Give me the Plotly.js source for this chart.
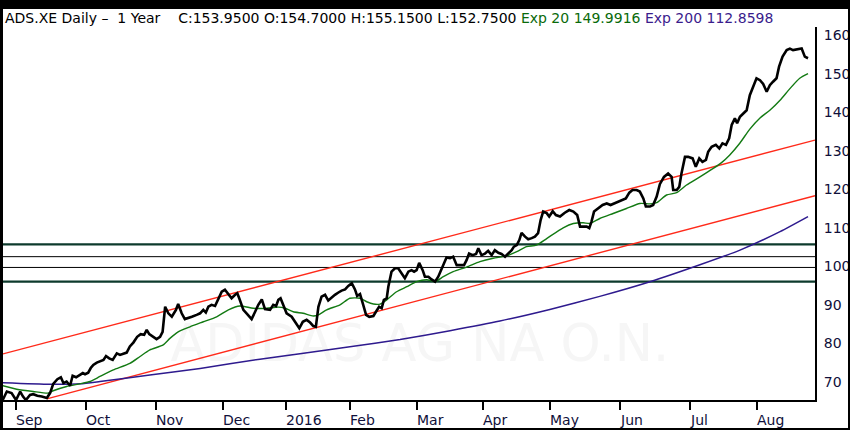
<!DOCTYPE html>
<html>
<head>
<meta charset="utf-8">
<script src="https://cdn.plot.ly/plotly-3.0.1.min.js"></script>
<style>
  html, body { margin: 0; padding: 0; background: #fff; }
  #wrap { position: relative; width: 850px; height: 430px; overflow: hidden; }
  #chart { position: absolute; left: 0; top: 0; width: 850px; height: 430px; }
  .fr { position: absolute; background: #000; pointer-events: none; }
</style>
</head>
<body>
<div id="wrap">
  <div id="chart"></div>
  <div class="fr" style="left:0;top:0;width:850px;height:9px;"></div>
  <div class="fr" style="left:0;top:0;width:3px;height:430px;"></div>
  <div class="fr" style="left:848px;top:0;width:2px;height:430px;"></div>
  <div class="fr" style="left:0;top:428px;width:850px;height:2px;"></div>
</div>
<script>
// ---- data (x = trading-day index, 0 = 1 Sep 2015) ----
const closeDay = [-4.2,-2.9,-1.4,0,1.3,2.2,3.1,4.4,5.4,6.7,8.1,9.7,10.7,11.7,13.0,14.1,14.9,15.9,17.0,17.8,18.9,19.9,21.0,21.7,22.7,23.5,24.3,25.4,26.4,27.5,28.3,29.3,30.4,31.7,32.7,33.7,34.8,35.8,36.9,38.1,39.2,40.3,41.1,41.9,43.0,44.2,45.3,46.1,46.9,47.9,49.0,50.3,51.0,52.1,53.1,54.2,55.3,56.8,57.9,58.9,59.7,60.5,61.5,62.6,63.6,64.7,65.7,66.8,67.8,68.9,69.6,70.2,71.5,72.5,74.1,75.2,76.2,77.3,78.3,79.9,80.9,81.8,82.5,83.2,84.1,85.1,86.7,87.7,89.1,90.2,91.4,92.5,93.5,94.3,95.1,96.1,97.2,98.2,99.3,100.3,101.4,102.4,103.5,104.5,105.6,106.6,107.3,108.2,109.2,110.1,111.1,112.4,113.2,114.2,115.0,115.7,116.6,117.1,118.1,119.2,120.2,121.3,122.3,123.4,124.4,125.2,126.0,126.8,127.9,128.6,129.7,130.7,131.8,132.8,133.9,134.6,135.4,136.5,137.5,138.6,139.6,140.9,141.7,142.5,143.6,144.7,145.4,146.4,147.5,148.5,149.6,150.6,151.7,152.7,153.8,154.8,155.9,156.6,157.5,158.3,159.0,160.1,161.1,162.2,163.2,164.2,165.0,165.8,166.9,167.7,168.8,169.8,171.1,172.6,174.0,175.3,176.5,177.4,178.4,179.5,180.3,181.0,181.8,183.1,184.5,185.8,187.0,188.1,189.4,190.8,191.8,192.9,193.9,195.2,196.2,197.3,198.1,199.4,200.4,201.5,202.5,203.8,205.1,206.2,206.7,207.8,208.6,209.3,210.4,211.4,212.8,213.8,214.9,215.9,217.0,217.7,218.8,220.1,221.2,222.2,223.3,224.3,225.1,226.1,226.8,227.7,228.9,229.8,230.8,231.9,232.9,234.0,235.0,236.1,237.1,238.1,239.2,240.0,241.1,242.4,243.4,244.4,245.7,247.1,248.1,249.1];
const closeVal = [65.3,67.5,67.1,65.3,67.5,66.2,65.3,66.6,66.8,66.4,66.2,65.8,67.1,69.5,70.7,71.2,69.7,70.1,69.0,71.6,71.2,71.8,72.3,72.0,72.4,73.6,74.4,75.0,75.3,75.7,76.7,76.1,75.7,77.4,77.0,77.3,77.6,79.2,80.2,81.7,82.4,82.2,83.5,82.4,81.7,81.1,81.7,83.0,89.5,87.8,86.9,88.7,90.2,87.8,86.3,86.5,86.9,87.4,87.8,88.7,88.0,89.5,90.0,89.7,91.3,93.4,93.9,92.6,91.7,92.6,93.0,91.7,88.7,87.8,86.3,88.2,90.0,91.4,88.9,88.7,90.0,89.7,91.3,91.7,90.0,87.8,86.9,85.6,83.9,85.6,86.1,85.4,84.5,84.3,89.5,92.1,92.6,91.1,92.0,92.6,93.2,93.7,94.0,94.9,95.6,94.0,92.3,92.8,90.0,87.4,86.9,87.1,88.2,89.5,89.1,91.3,91.7,94.7,98.6,99.5,99.5,98.3,96.9,98.6,99.0,98.6,99.0,100.9,99.0,97.3,97.3,96.6,96.0,97.3,99.5,101.2,102.3,102.1,102.5,100.3,100.3,100.3,101.6,103.3,102.9,103.2,104.7,102.9,103.3,104.0,102.9,104.2,103.5,103.2,102.5,103.2,104.2,105.1,105.5,106.8,108.7,107.7,107.0,107.3,107.7,108.6,112.0,114.2,113.8,112.9,114.3,113.3,112.9,113.9,114.6,114.2,113.3,110.3,110.3,110.3,109.9,111.6,114.2,115.0,115.9,116.3,115.9,116.3,116.8,117.2,117.6,119.1,119.8,119.8,119.4,117.6,115.5,115.5,115.9,118.1,121.3,123.2,124.1,123.2,119.8,119.8,120.6,124.1,128.4,128.4,128.0,125.8,128.0,127.1,127.6,129.7,131.0,131.5,130.6,131.9,131.5,133.2,136.7,138.4,137.1,138.8,139.7,140.5,144.4,147.0,148.8,148.3,147.3,145.3,147.0,147.9,148.8,151.8,154.4,156.1,156.5,156.1,156.3,156.5,154.4,154.0];

const ema20Day = [-4.2,0.2,5.4,10.2,11.7,15.9,20.1,23.3,26.4,30.6,35.8,39.0,42.1,46.3,48.4,51.0,54.7,58.9,63.1,66.8,70.4,74.6,78.8,82.5,84.6,87.2,90.3,93.5,95.1,97.7,101.9,105.0,108.2,110.3,112.4,114.5,116.6,119.7,122.9,126.0,129.2,131.8,134.4,137.5,141.7,145.9,150.1,154.3,157.5,160.6,163.7,166.9,172.1,175.3,178.4,180.5,183.6,187.8,192.0,196.2,199.4,201.5,204.6,207.8,210.9,215.1,219.3,221.9,224.5,227.7,230.8,234.0,237.1,240.3,243.4,246.5,249.1];
const ema20Val = [69.0,68.1,67.5,67.1,67.7,68.8,69.5,70.1,71.4,73.1,74.8,76.6,78.3,79.6,81.3,83.0,84.3,85.6,86.9,88.7,89.7,89.1,89.1,89.4,89.1,88.2,87.8,87.1,87.4,88.7,90.0,91.7,91.7,90.8,90.2,90.2,91.3,93.4,94.7,96.0,96.5,96.0,97.3,98.6,99.8,101.2,102.1,102.7,103.8,105.1,105.5,107.2,110.0,111.1,111.3,111.1,112.4,113.7,115.0,116.3,116.2,116.5,118.5,119.1,121.1,123.2,125.4,126.9,128.9,132.0,135.6,138.5,140.5,143.1,146.1,148.8,150.0];

const ema200Day = [-4.1,10.7,20.1,26.4,42.1,57.9,76.7,89.3,105.0,120.8,136.5,152.2,167.9,183.6,199.4,215.1,227.7,240.3,249.1];
const ema200Val = [69.8,69.4,69.5,70.1,71.8,73.5,75.9,77.3,79.1,81.0,83.3,85.8,88.8,92.2,96.0,100.4,104.2,109.0,112.9];

const upperDay = [-4.1, 251.3];
const upperVal = [77.26, 132.76];
const lowerDay = [9.65, 251.3];
const lowerVal = [65.6, 118.3];

const levelVals = [105.7, 102.5, 99.7, 96.0];

const monthDays = [0,22,44,65,85,105,126,147,168,190,212,233];
const monthLabels = ['Sep','Oct','Nov','Dec','2016','Feb','Mar','Apr','May','Jun','Jul','Aug'];
const yTicks = [70,80,90,100,110,120,130,140,150,160];

const xRange = [-4.1, 251.3];
const yRange = [65.3, 162.1];

// ---- traces ----
const traces = [];
traces.push({
  x: [127], y: [78.8], mode: 'text', text: ['ADIDAS AG NA O.N.'],
  textposition: 'middle center',
  textfont: { family: 'DejaVu Sans', size: 51, color: '#f6f6f6' },
  hoverinfo: 'skip', showlegend: false
});
levelVals.forEach((v, i) => {
  const heavy = (i === 0 || i === levelVals.length - 1);
  traces.push({
    x: xRange, y: [v, v], mode: 'lines',
    line: { color: heavy ? '#0d3a2c' : '#000000', width: heavy ? 2.2 : 1 },
    hoverinfo: 'skip', showlegend: false
  });
});
traces.push({ x: upperDay, y: upperVal, mode: 'lines', line: { color: '#ff2a1a', width: 1.4 }, hoverinfo: 'skip', showlegend: false });
traces.push({ x: lowerDay, y: lowerVal, mode: 'lines', line: { color: '#ff2a1a', width: 1.4 }, hoverinfo: 'skip', showlegend: false });
traces.push({ x: ema200Day, y: ema200Val, mode: 'lines', line: { color: '#2e1a8e', width: 1.5, shape: 'spline', smoothing: 0.6 }, hoverinfo: 'skip', showlegend: false });
traces.push({ x: ema20Day, y: ema20Val, mode: 'lines', line: { color: '#137a13', width: 1.4, shape: 'spline', smoothing: 0.6 }, hoverinfo: 'skip', showlegend: false });
traces.push({ x: closeDay, y: closeVal, mode: 'lines', line: { color: '#000000', width: 2.6 }, hoverinfo: 'skip', showlegend: false });

// ---- annotations ----
const header = 'ADS.XE Daily –&nbsp; 1 Year&nbsp;&nbsp;&nbsp;&nbsp;C:153.9500 O:154.7000 H:155.1500 L:152.7500 ' +
  '<span style="color:#0a6a0a">Exp 20 149.9916</span> ' +
  '<span style="color:#3a1c8c">Exp 200 112.8598</span>';
const annotations = [{
  xref: 'paper', yref: 'paper', x: 0, y: 1, xanchor: 'left', yanchor: 'middle',
  xshift: 0, yshift: 9, showarrow: false, text: header,
  font: { family: 'DejaVu Sans', size: 14, color: '#000' }
}];
monthDays.forEach((d, i) => {
  annotations.push({
    xref: 'x', yref: 'paper', x: d, y: 0, xanchor: 'left', yanchor: 'middle',
    xshift: -2, yshift: -20, showarrow: false, text: monthLabels[i],
    font: { family: 'DejaVu Sans', size: 14, color: '#10103a' }
  });
});

const layout = {
  width: 850, height: 430,
  margin: { l: 3, r: 35, t: 27, b: 30, pad: 0 },
  paper_bgcolor: '#ffffff', plot_bgcolor: '#ffffff',
  showlegend: false,
  xaxis: {
    range: xRange, showgrid: false, zeroline: false,
    showline: true, linecolor: '#000', linewidth: 2,
    tickmode: 'array', tickvals: monthDays, ticks: 'outside', ticklen: 8, tickwidth: 2, tickcolor: '#000',
    showticklabels: false, fixedrange: true
  },
  yaxis: {
    range: yRange, side: 'right', showgrid: false, zeroline: false,
    showline: true, linecolor: '#000', linewidth: 2,
    tickmode: 'array', tickvals: yTicks, ticks: '', ticklabelstandoff: 4,
    tickfont: { family: 'DejaVu Sans', size: 14, color: '#10103a' }, fixedrange: true
  },
  annotations: annotations
};

Plotly.newPlot('chart', traces, layout, { displayModeBar: false, staticPlot: true });
</script>
</body>
</html>
